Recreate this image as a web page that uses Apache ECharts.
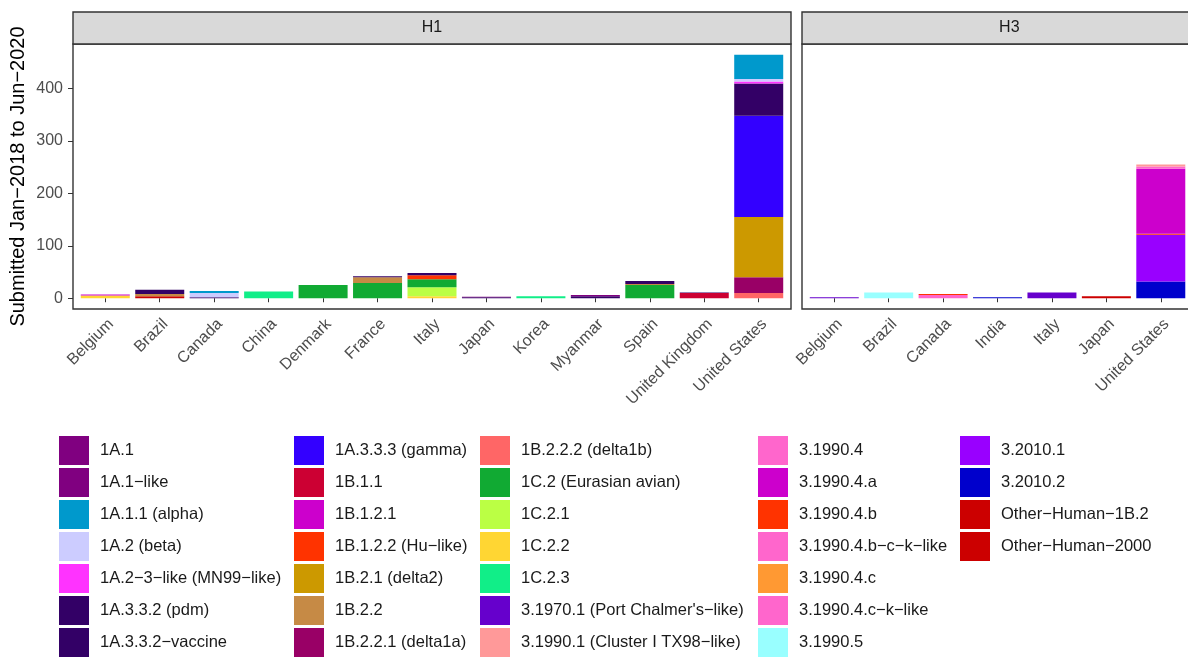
<!DOCTYPE html>
<html>
<head>
<meta charset="utf-8">
<script src="https://cdn.jsdelivr.net/npm/echarts@6/dist/echarts.min.js"></script>
<style>
  html, body { margin: 0; padding: 0; background: #ffffff; }
  #chart { width: 1188px; height: 657px; }
</style>
</head>
<body>
<div id="chart"></div>
<script>
// Swine influenza A submissions by country and genetic clade, faceted by subtype.
const h1Countries = ['Belgium', 'Brazil', 'Canada', 'China', 'Denmark', 'France', 'Italy',
  'Japan', 'Korea', 'Myanmar', 'Spain', 'United Kingdom', 'United States'];
const h3Countries = ['Belgium', 'Brazil', 'Canada', 'India', 'Italy', 'Japan', 'United States'];

const lineages = [
  '1A.1', '1A.1\u2212like', '1A.1.1 (alpha)', '1A.2 (beta)', '1A.2\u22123\u2212like (MN99\u2212like)',
  '1A.3.3.2 (pdm)', '1A.3.3.2\u2212vaccine',
  '1A.3.3.3 (gamma)', '1B.1.1', '1B.1.2.1', '1B.1.2.2 (Hu\u2212like)', '1B.2.1 (delta2)', '1B.2.2',
  '1B.2.2.1 (delta1a)',
  '1B.2.2.2 (delta1b)', '1C.2 (Eurasian avian)', '1C.2.1', '1C.2.2', '1C.2.3',
  "3.1970.1 (Port Chalmer's\u2212like)", '3.1990.1 (Cluster I TX98\u2212like)',
  '3.1990.4', '3.1990.4.a', '3.1990.4.b', '3.1990.4.b\u2212c\u2212k\u2212like', '3.1990.4.c',
  '3.1990.4.c\u2212k\u2212like', '3.1990.5',
  '3.2010.1', '3.2010.2', 'Other\u2212Human\u22121B.2', 'Other\u2212Human\u22122000'
];
const lineageColors = [
  '#800080', '#800080', '#0099CC', '#CCCCFF', '#FF33FF', '#330066', '#330066',
  '#3300FF', '#CC0033', '#CC00CC', '#FF3300', '#CC9900', '#C68A45', '#990066',
  '#FF6666', '#11AA33', '#BBFF44', '#FFD633', '#11EE88', '#6600CC', '#FF9999',
  '#FF66CC', '#CC00CC', '#FF3300', '#FF66CC', '#FF9933', '#FF66CC', '#99FFFF',
  '#9900FF', '#0000CC', '#CC0000', '#CC0000'
];

// H1 counts, one value per entry of h1Countries
const h1Counts = [
  ['1A.1',                                  [0, 0, 0, 0, 0, 0, 0, 1, 0, 2, 0, 0, 0]],
  ['1A.1.1 (alpha)',                        [0, 0, 4, 0, 0, 0, 0, 0, 0, 0, 0, 0, 46]],
  ['1A.2 (beta)',                           [0, 0, 8, 0, 0, 0, 0, 0, 0, 0, 0, 0, 5]],
  ['1A.2\u22123\u2212like (MN99\u2212like)', [0, 0, 0, 0, 0, 0, 0, 0, 0, 0, 0, 0, 4]],
  ['1A.3.3.2 (pdm)',                        [0, 8, 2, 0, 0, 2, 4, 2, 0, 4, 6, 1, 61]],
  ['1A.3.3.3 (gamma)',                      [0, 0, 0, 0, 0, 0, 0, 0, 0, 0, 0, 0, 193]],
  ['1B.1.1',                                [0, 0, 0, 0, 0, 0, 0, 0, 0, 0, 0, 10, 0]],
  ['1B.1.2.1',                              [2, 0, 0, 0, 0, 0, 0, 0, 0, 0, 0, 0, 0]],
  ['1B.1.2.2 (Hu\u2212like)',               [0, 0, 0, 0, 0, 0, 8, 0, 0, 0, 0, 0, 0]],
  ['1B.2.1 (delta2)',                       [0, 0, 0, 0, 0, 0, 0, 0, 0, 0, 0, 0, 115]],
  ['1B.2.2',                                [0, 4, 0, 0, 0, 11, 0, 0, 0, 0, 2, 0, 0]],
  ['1B.2.2.1 (delta1a)',                    [0, 0, 0, 0, 0, 0, 0, 0, 0, 0, 0, 0, 30]],
  ['1B.2.2.2 (delta1b)',                    [0, 0, 0, 0, 0, 0, 0, 0, 0, 0, 0, 0, 10]],
  ['1C.2 (Eurasian avian)',                 [0, 0, 0, 0, 25, 29, 15, 0, 0, 0, 25, 0, 0]],
  ['1C.2.1',                                [0, 0, 0, 0, 0, 0, 17, 0, 0, 0, 0, 0, 0]],
  ['1C.2.2',                                [5, 0, 0, 0, 0, 0, 4, 0, 0, 0, 0, 0, 0]],
  ['1C.2.3',                                [0, 0, 0, 13, 0, 0, 0, 0, 4, 0, 0, 0, 0]],
  ['Other\u2212Human\u22121B.2',            [0, 4, 0, 0, 0, 0, 0, 0, 0, 0, 0, 0, 0]]
];

// H3 counts, one value per entry of h3Countries
const h3Counts = [
  ["3.1970.1 (Port Chalmer's\u2212like)",   [2, 0, 0, 0, 11, 0, 0]],
  ['3.1990.1 (Cluster I TX98\u2212like)',   [0, 0, 0, 0, 0, 0, 4]],
  ['3.1990.4',                              [0, 0, 0, 0, 0, 0, 4]],
  ['3.1990.4.a',                            [0, 0, 0, 0, 0, 0, 124]],
  ['3.1990.4.b',                            [0, 0, 2, 0, 0, 0, 2]],
  ['3.1990.4.c\u2212k\u2212like',           [0, 0, 6, 0, 0, 0, 0]],
  ['3.1990.5',                              [0, 11, 0, 0, 0, 0, 0]],
  ['3.2010.1',                              [0, 0, 0, 0, 0, 0, 89]],
  ['3.2010.2',                              [0, 0, 0, 2, 0, 0, 32]],
  ['Other\u2212Human\u22122000',            [0, 0, 0, 0, 0, 4, 0]]
];

const yTicks = [0, 100, 200, 300, 400];
const yMin = -20.5;
const yMax = 484.5;

// Panel geometry (facet panels share one category width)
const FONT = '"Liberation Sans", Arial, Helvetica, sans-serif';
const panelTop = 44, panelHeight = 265, stripTop = 12, stripHeight = 32;
const h1Left = 73, h1Width = 718;
const unit = h1Width / (h1Countries.length + 1.2);
const h3Left = 802, h3Width = unit * (h3Countries.length + 1.2);
const pad = 0.1 * unit; // discrete scales pad 0.6 of a category, echarts 0.5

const legendCols = [59, 294, 480, 758, 960];
const legendRows = 7;

const chart = echarts.init(document.getElementById('chart'), null, { renderer: 'canvas' });

const colorOf = name => lineageColors[lineages.indexOf(name)];

// later lineages sit lower in each stack
const series = [];
const used = new Set();
[[h1Counts, 0, 'h1'], [h3Counts, 1, 'h3']].forEach(([rows, axis, stack]) => {
  rows.slice().sort((a, b) => lineages.indexOf(b[0]) - lineages.indexOf(a[0])).forEach(([name, vals]) => {
    used.add(name);
    series.push({
      name, type: 'bar', stack, xAxisIndex: axis, yAxisIndex: axis,
      data: vals, barWidth: '90%', silent: true,
      itemStyle: { color: colorOf(name) },
      emphasis: { disabled: true }
    });
  });
});
lineages.forEach(name => {
  if (!used.has(name)) {
    series.push({ name, type: 'bar', stack: 'h1', xAxisIndex: 0, yAxisIndex: 0, data: [],
      itemStyle: { color: colorOf(name) } });
  }
});

const legends = legendCols.map((x, i) => ({
  data: lineages.slice(i * legendRows, (i + 1) * legendRows),
  orient: 'vertical', left: x, top: 436, padding: 0,
  itemWidth: 30, itemHeight: 29, itemGap: 3, icon: 'rect', selectedMode: false,
  textStyle: { fontSize: 16.5, color: '#1A1A1A', fontFamily: FONT, padding: [0, 0, 0, 6] }
}));

const xAxisCommon = {
  type: 'category',
  axisLine: { show: false },
  axisTick: { show: true, alignWithLabel: true, length: 4, lineStyle: { color: '#333333', width: 1 } },
  axisLabel: { rotate: 45, interval: 0, fontSize: 16, color: '#4D4D4D', fontFamily: FONT,
    margin: 7, verticalAlign: 'top' },
  splitLine: { show: false }
};

const option = {
  backgroundColor: '#ffffff',
  animation: false,
  textStyle: { fontFamily: FONT },
  legend: legends,
  grid: [
    { left: h1Left + pad, top: panelTop, width: h1Width - 2 * pad, height: panelHeight },
    { left: h3Left + pad, top: panelTop, width: h3Width - 2 * pad, height: panelHeight }
  ],
  xAxis: [
    Object.assign({}, xAxisCommon, { gridIndex: 0, data: h1Countries }),
    Object.assign({}, xAxisCommon, { gridIndex: 1, data: h3Countries })
  ],
  yAxis: [
    {
      type: 'value', gridIndex: 0, min: yMin, max: yMax, offset: pad,
      axisLine: { show: false },
      axisTick: { show: true, length: 5, customValues: yTicks, lineStyle: { color: '#333333' } },
      axisLabel: { customValues: yTicks, fontSize: 16, color: '#4D4D4D', fontFamily: FONT, margin: 10 },
      splitLine: { show: false }
    },
    {
      type: 'value', gridIndex: 1, min: yMin, max: yMax,
      axisLine: { show: false }, axisTick: { show: false }, axisLabel: { show: false },
      splitLine: { show: false }
    }
  ],
  series,
  graphic: [
    { type: 'rect', z: 100, shape: { x: h1Left, y: panelTop, width: h1Width, height: panelHeight },
      style: { fill: 'none', stroke: '#333333', lineWidth: 1.4 } },
    { type: 'rect', z: 100, shape: { x: h3Left, y: panelTop, width: h3Width, height: panelHeight },
      style: { fill: 'none', stroke: '#333333', lineWidth: 1.4 } },
    { type: 'rect', z: 100, shape: { x: h1Left, y: stripTop, width: h1Width, height: stripHeight },
      style: { fill: '#D9D9D9', stroke: '#333333', lineWidth: 1.4 } },
    { type: 'rect', z: 100, shape: { x: h3Left, y: stripTop, width: h3Width, height: stripHeight },
      style: { fill: '#D9D9D9', stroke: '#333333', lineWidth: 1.4 } },
    { type: 'text', z: 101, x: h1Left + h1Width / 2, y: stripTop + stripHeight / 2,
      style: { text: 'H1', fontSize: 16, fill: '#1A1A1A', fontFamily: FONT, align: 'center', verticalAlign: 'middle' } },
    { type: 'text', z: 101, x: h3Left + h3Width / 2, y: stripTop + stripHeight / 2,
      style: { text: 'H3', fontSize: 16, fill: '#1A1A1A', fontFamily: FONT, align: 'center', verticalAlign: 'middle' } },
    { type: 'text', z: 101, x: 18, y: panelTop + panelHeight / 2, rotation: Math.PI / 2,
      style: { text: 'Submitted Jan\u22122018 to Jun\u22122020', fontSize: 20, fill: '#000000', fontFamily: FONT,
        align: 'center', verticalAlign: 'middle' } }
  ]
};

chart.setOption(option);
</script>
</body>
</html>
